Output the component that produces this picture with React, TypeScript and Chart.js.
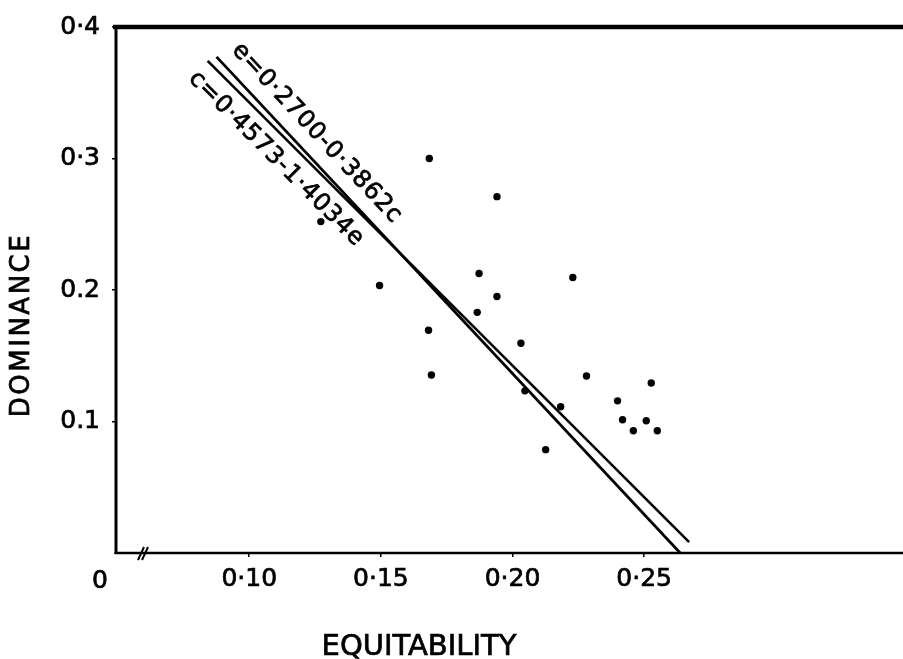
import React, { useEffect, useRef } from "react";
import { Chart, registerables } from "chart.js";

Chart.register(...registerables);

// ---- data ----
const EQUITABILITY = [0.1684, 0.1941, 0.1272, 0.1873, 0.2229, 0.1495, 0.1941, 0.1866, 0.1681, 0.2032, 0.1692, 0.2281, 0.2527, 0.2047, 0.2399, 0.2183, 0.2418, 0.2508, 0.2459, 0.255, 0.2126];
const DOMINANCE = [0.3, 0.271, 0.252, 0.2125, 0.2095, 0.2034, 0.1951, 0.183, 0.1694, 0.1595, 0.1354, 0.1346, 0.1293, 0.1233, 0.1157, 0.1112, 0.1013, 0.1006, 0.093, 0.093, 0.0786];

// regression line e = 0.2700 - 0.3862c (as drawn)
const LINE_E_X = [0.0876, 0.2637];
const LINE_E_Y = [0.3773, 0.0];
// regression line c = 0.4573 - 1.4034e (as drawn)
const LINE_C_X = [0.0842, 0.2671];
const LINE_C_Y = [0.3743, 0.0083];

const LABEL_E = "e=0·2700-0·3862c";
const LABEL_C = "c=0·4573-1·4034e";

const X_TICKS = [0.1, 0.15, 0.2, 0.25];
const X_TICK_LABELS = ["0·10", "0·15", "0·20", "0·25"];
const Y_TICKS = [0.1, 0.2, 0.3, 0.4];
const Y_TICK_LABELS = ["0.1", "0.2", "0·3", "0·4"];
const X_ORIGIN_LABEL = "0";
const X_TITLE = "EQUITABILITY";
const Y_TITLE = "DOMINANCE";

const X_MIN = 0.0494;
const X_MAX = 0.3468;
const Y_MIN = 0;
const Y_MAX = 0.4;

const FONT = "'DejaVu Sans', sans-serif";
const TEXT_STROKE = 0.7;

const decorPlugin = {
  id: "decor",
  afterDraw(chart: any) {
    const { ctx, chartArea } = chart;
    const xs = chart.scales.x;
    const ys = chart.scales.y;
    const { left, top, bottom } = chartArea;
    ctx.save();
    ctx.strokeStyle = "#000";
    ctx.fillStyle = "#000";
    ctx.lineCap = "butt";

    // frame
    ctx.lineWidth = 4.5;
    ctx.beginPath();
    ctx.moveTo(left - 3, top);
    ctx.lineTo(chart.width, top);
    ctx.stroke();
    ctx.lineWidth = 3;
    ctx.beginPath();
    ctx.moveTo(left, top - 2);
    ctx.lineTo(left, bottom + 1);
    ctx.stroke();
    ctx.lineWidth = 2.5;
    ctx.beginPath();
    ctx.moveTo(left - 1.5, bottom);
    ctx.lineTo(chart.width, bottom);
    ctx.stroke();

    // axis break mark
    ctx.lineWidth = 2;
    for (const dx of [0, 4]) {
      ctx.beginPath();
      ctx.moveTo(left + 22 + dx, bottom + 7);
      ctx.lineTo(left + 28 + dx, bottom - 6);
      ctx.stroke();
    }

    const txt = (s: string, x: number, y: number) => {
      ctx.lineWidth = TEXT_STROKE;
      ctx.fillText(s, x, y);
      ctx.strokeText(s, x, y);
    };

    // origin label "0"
    ctx.font = `25px ${FONT}`;
    ctx.textAlign = "center";
    ctx.textBaseline = "middle";
    txt(X_ORIGIN_LABEL, left - 16, 581);

    // axis titles
    ctx.font = `29px ${FONT}`;
    txt(X_TITLE, 419, 647);

    ctx.save();
    ctx.translate(22, 325);
    ctx.rotate(-Math.PI / 2);
    ctx.font = `26px ${FONT}`;
    (ctx as any).letterSpacing = "2.5px";
    txt(Y_TITLE, 0, 0);
    ctx.restore();

    // equation labels along the lines
    const drawLabel = (lx: number[], ly: number[], text: string, t: number, off: number, side: number) => {
      const x0 = xs.getPixelForValue(lx[0]);
      const y0 = ys.getPixelForValue(ly[0]);
      const x1 = xs.getPixelForValue(lx[1]);
      const y1 = ys.getPixelForValue(ly[1]);
      const dx = x1 - x0;
      const dy = y1 - y0;
      const len = Math.hypot(dx, dy);
      const ux = dx / len;
      const uy = dy / len;
      const nx = side * uy;
      const ny = side * -ux;
      const cx = x0 + ux * len * t + nx * off;
      const cy = y0 + uy * len * t + ny * off;
      ctx.save();
      ctx.translate(cx, cy);
      ctx.rotate(Math.atan2(dy, dx));
      ctx.font = `24px ${FONT}`;
      (ctx as any).letterSpacing = "0.8px";
      ctx.textAlign = "center";
      ctx.textBaseline = "middle";
      txt(text, 0, 0);
      ctx.restore();
    };
    drawLabel(LINE_E_X, LINE_E_Y, LABEL_E, 0.183, 21, 1);
    drawLabel(LINE_C_X, LINE_C_Y, LABEL_C, 0.173, 21, -1);

    ctx.restore();
  },
};

export default function App() {
  const ref = useRef<HTMLCanvasElement | null>(null);

  useEffect(() => {
    if (!ref.current) return;
    const points = EQUITABILITY.map((x, i) => ({ x, y: DOMINANCE[i] }));
    const lineE = LINE_E_X.map((x, i) => ({ x, y: LINE_E_Y[i] }));
    const lineC = LINE_C_X.map((x, i) => ({ x, y: LINE_C_Y[i] }));

    const chart = new Chart(ref.current, {
      type: "scatter",
      data: {
        datasets: [
          {
            label: "sites",
            data: points,
            backgroundColor: "#000",
            borderColor: "#000",
            pointRadius: 3.7,
            pointBorderWidth: 0,
            showLine: false,
          },
          {
            label: LABEL_E,
            data: lineE,
            showLine: true,
            borderColor: "#000",
            borderWidth: 2.8,
            pointRadius: 0,
            fill: false,
          },
          {
            label: LABEL_C,
            data: lineC,
            showLine: true,
            borderColor: "#000",
            borderWidth: 2.6,
            pointRadius: 0,
            fill: false,
          },
        ],
      },
      options: {
        animation: false,
        responsive: false,
        maintainAspectRatio: false,
        layout: { padding: { top: 24, right: 0, left: 0, bottom: 0 } },
        plugins: {
          legend: { display: false },
          tooltip: { enabled: false },
          title: { display: false },
        },
        scales: {
          x: {
            type: "linear",
            min: X_MIN,
            max: X_MAX,
            afterBuildTicks: (s: any) => {
              s.ticks = X_TICKS.map((v) => ({ value: v }));
            },
            afterFit: (s: any) => {
              s.height = 106;
            },
            ticks: {
              color: "#000",
              textStrokeColor: "#000",
              textStrokeWidth: TEXT_STROKE,
              font: { family: FONT, size: 25 },
              padding: 7,
              maxRotation: 0,
              autoSkip: false,
              callback: (v: any) => {
                const i = X_TICKS.findIndex((t) => Math.abs(t - v) < 1e-9);
                return i >= 0 ? X_TICK_LABELS[i] : "";
              },
            },
            grid: { display: true, drawOnChartArea: false, tickLength: 4, color: "#000", lineWidth: 1.5 },
            border: { display: false },
          },
          y: {
            type: "linear",
            min: Y_MIN,
            max: Y_MAX,
            afterBuildTicks: (s: any) => {
              s.ticks = Y_TICKS.map((v) => ({ value: v }));
            },
            afterFit: (s: any) => {
              s.width = 116;
            },
            ticks: {
              color: "#000",
              textStrokeColor: "#000",
              textStrokeWidth: TEXT_STROKE,
              font: { family: FONT, size: 25 },
              padding: 12,
              autoSkip: false,
              callback: (v: any) => {
                const i = Y_TICKS.findIndex((t) => Math.abs(t - v) < 1e-9);
                return i >= 0 ? Y_TICK_LABELS[i] : "";
              },
            },
            grid: { display: true, drawOnChartArea: false, tickLength: 4, color: "#000", lineWidth: 1.5 },
            border: { display: false },
          },
        },
      },
      plugins: [decorPlugin],
    });
    return () => chart.destroy();
  }, []);

  return (
    <div style={{ position: "fixed", left: 0, top: 0, width: 903, height: 659, background: "#fff" }}>
      <canvas ref={ref} width={903} height={659} style={{ display: "block" }} />
    </div>
  );
}
